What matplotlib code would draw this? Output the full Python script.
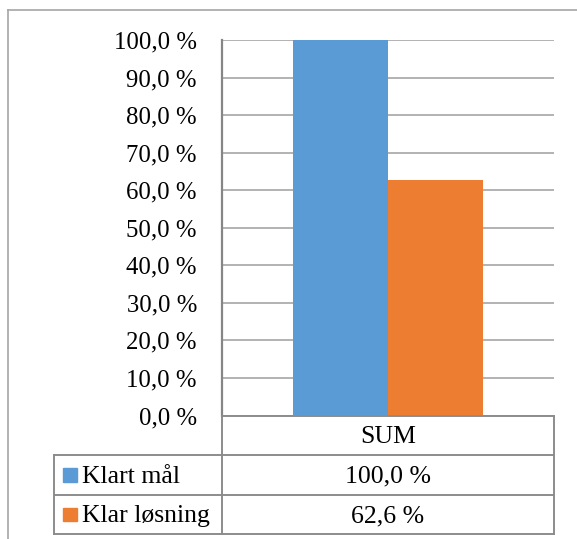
import matplotlib
matplotlib.use("Agg")
import matplotlib.pyplot as plt
from matplotlib.lines import Line2D
from matplotlib.patches import Rectangle
import numpy as np

# Data
categories = ["SUM"]
series_names = ["Klart mål", "Klar løsning"]
series_values = [[100.0], [62.6]]
series_colors = ["#5B9BD5", "#ED7D31"]
y_ticks = [0, 10, 20, 30, 40, 50, 60, 70, 80, 90, 100]


def pct(v):
    return f"{v:.1f} %".replace(".", ",")


W, H = 577, 539
plt.rcParams["font.family"] = ["Liberation Serif", "DejaVu Serif"]
FS = 17.8
FS_T = 18.5

fig = plt.figure(figsize=(W / 100, H / 100), dpi=100)
fig.patch.set_facecolor("white")


def fx(px):
    return px / W


def fy(py):
    return 1 - py / H


# plot area
x0, x1, ytop, ybot = 222, 554, 40, 415.5
ax = fig.add_axes([fx(x0), fy(ybot), fx(x1) - fx(x0), fy(ytop) - fy(ybot)])

n_series = len(series_values)
group_w = 0.574
bar_w = group_w / n_series
x = np.arange(len(categories))
for i, (vals, col) in enumerate(zip(series_values, series_colors)):
    offs = -group_w / 2 + bar_w * (i + 0.5)
    ax.bar(x + offs, vals, width=bar_w, color=col, zorder=3, linewidth=0)

ax.set_xlim(-0.5, len(categories) - 0.5)
ax.set_ylim(0, 100)
ax.set_yticks(y_ticks)
ax.set_yticklabels([pct(t) for t in y_ticks], fontsize=FS)
ax.tick_params(axis="y", length=0, pad=18)
ax.set_xticks([])
ax.grid(axis="y", color="#a6a6a6", linewidth=1.2, zorder=0)
for s in ["top", "right", "bottom"]:
    ax.spines[s].set_visible(False)
ax.spines["left"].set_color("#868686")
ax.spines["left"].set_linewidth(1.6)

# data table beneath the plot
tcol = "#8c8c8c"
lw = 1.4
row_y = [415.5, 455, 494.5, 534]
tx0 = 54


def hline(xa, xb, y):
    fig.add_artist(Line2D([fx(xa), fx(xb)], [fy(y), fy(y)], color=tcol, lw=lw))


def vline(x, ya, yb):
    fig.add_artist(Line2D([fx(x), fx(x)], [fy(ya), fy(yb)], color=tcol, lw=lw))


hline(x0, x1, row_y[0])
for y in row_y[1:]:
    hline(tx0, x1, y)
vline(x0, row_y[0], row_y[-1])
vline(x1, row_y[0], row_y[-1])
vline(tx0, row_y[1], row_y[-1])

cx = (x0 + x1) / 2
fig.text(fx(cx), fy((row_y[0] + row_y[1]) / 2 + 2), categories[0],
         ha="center", va="center", fontsize=FS_T)
for i, (name, vals, col) in enumerate(zip(series_names, series_values, series_colors)):
    ym = (row_y[i + 1] + row_y[i + 2]) / 2
    yc = ym + 2
    fig.text(fx(cx), fy(yc), pct(vals[0]), ha="center", va="center", fontsize=FS_T)
    fig.add_artist(Rectangle((fx(63), fy(ym + 7)), fx(14), 13.5 / H,
                             color=col, transform=fig.transFigure))
    fig.text(fx(82), fy(yc), name, ha="left", va="center", fontsize=FS_T)

# outer chart border
fig.add_artist(Line2D([fx(8), fx(8)], [fy(10), 0], color="#a6a6a6", lw=1.2))
fig.add_artist(Line2D([fx(8), 1], [fy(10), fy(10)], color="#a6a6a6", lw=1.2))

fig.savefig("out.png", dpi=100, facecolor="white")
